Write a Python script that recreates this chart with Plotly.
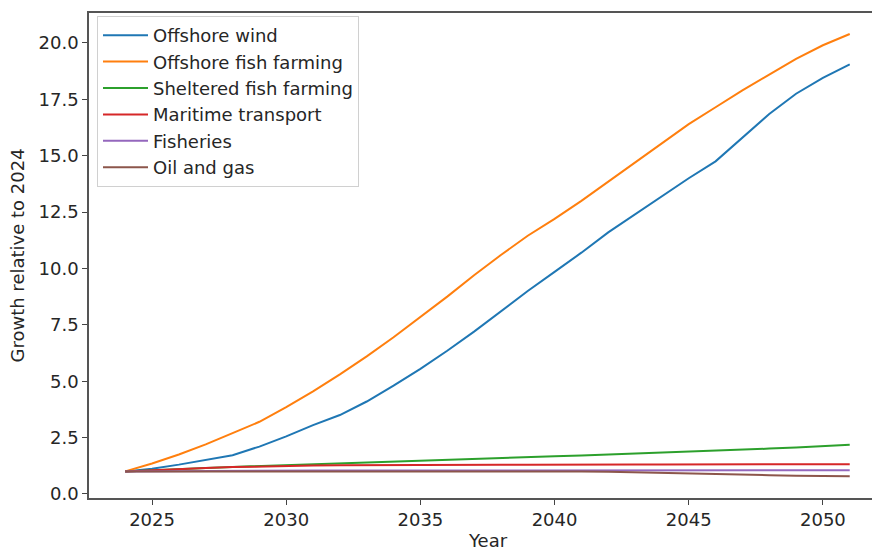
import plotly.graph_objects as go

years = list(range(2024, 2052))

offshore_wind = [1.0, 1.12, 1.3, 1.5, 1.72, 2.1, 2.55, 3.05, 3.5, 4.1, 4.8, 5.55,
                 6.35, 7.2, 8.1, 9.0, 9.85, 10.7, 11.6, 12.4, 13.2, 14.0, 14.75,
                 15.8, 16.85, 17.75, 18.45, 19.05]
offshore_fish = [1.0, 1.35, 1.75, 2.2, 2.7, 3.2, 3.85, 4.55, 5.3, 6.1, 6.95, 7.85,
                 8.75, 9.7, 10.6, 11.45, 12.2, 13.0, 13.85, 14.7, 15.55, 16.4, 17.15,
                 17.9, 18.6, 19.3, 19.9, 20.4]
sheltered_fish = [1.0, 1.06, 1.1, 1.15, 1.2, 1.24, 1.3, 1.33, 1.37, 1.41, 1.45, 1.49,
                  1.52, 1.56, 1.6, 1.63, 1.67, 1.7, 1.74, 1.78, 1.82, 1.86, 1.91,
                  1.96, 2.01, 2.06, 2.12, 2.18]
maritime = [1.0, 1.06, 1.11, 1.15, 1.19, 1.22, 1.24, 1.26, 1.27, 1.28, 1.29, 1.3,
            1.3, 1.3, 1.3, 1.3, 1.31, 1.31, 1.31, 1.31, 1.31, 1.31, 1.32, 1.32,
            1.32, 1.32, 1.32, 1.32]
fisheries = [1.0, 1.01, 1.02, 1.03, 1.03, 1.04, 1.04, 1.04, 1.04, 1.04, 1.04, 1.04,
             1.04, 1.05, 1.05, 1.05, 1.05, 1.05, 1.05, 1.05, 1.05, 1.05, 1.05,
             1.05, 1.05, 1.05, 1.05, 1.05]
oil_gas = [1.0, 1.0, 1.01, 1.01, 1.01, 1.02, 1.02, 1.02, 1.02, 1.02, 1.02, 1.02,
           1.02, 1.02, 1.02, 1.01, 1.01, 1.0, 0.98, 0.95, 0.92, 0.89, 0.87,
           0.85, 0.83, 0.81, 0.79, 0.78]

series_names = ["Offshore wind", "Offshore fish farming", "Sheltered fish farming",
                "Maritime transport", "Fisheries", "Oil and gas"]
series_values = [offshore_wind, offshore_fish, sheltered_fish, maritime, fisheries, oil_gas]
colors = ["#1f77b4", "#ff7f0e", "#2ca02c", "#d62728", "#9467bd", "#8c564b"]

x_ticks = [2025, 2030, 2035, 2040, 2045, 2050]
y_ticks = [0.0, 2.5, 5.0, 7.5, 10.0, 12.5, 15.0, 17.5, 20.0]

fig = go.Figure()
for i, (name, vals, col) in enumerate(zip(series_names, series_values, colors)):
    fig.add_trace(go.Scatter(x=years, y=vals, mode="lines", name=name,
                             legendgroup=str(i),
                             line=dict(color=col, width=2)))

font = dict(family="DejaVu Sans", size=18, color="#262626")
W, H = 872, 550
L, R, T, B = 89, 0, 13, 52

fig.update_layout(
    width=W, height=H,
    margin=dict(l=L, r=R, t=T, b=B),
    paper_bgcolor="white", plot_bgcolor="white",
    font=font,
    showlegend=True,
    legend=dict(x=(97 - L) / (W - L - R), y=(H - B - 16) / (H - T - B),
                xanchor="left", yanchor="top",
                bgcolor="rgba(255,255,255,0.85)", bordercolor="#d0d0d0", borderwidth=1,
                font=font, itemwidth=45,
                traceorder="grouped", tracegroupgap=0),
    xaxis=dict(range=[2022.65, 2051.83], tickvals=x_ticks, ticks="outside", ticklen=5,
               tickcolor="#444", showline=True, linecolor="#555", linewidth=1.5,
               mirror=True, showgrid=False, zeroline=False,
               tickfont=font),
    yaxis=dict(range=[-0.18, 21.33], tickvals=y_ticks, tickformat=".1f", ticks="outside",
               ticklen=5, tickcolor="#444", showline=True, linecolor="#555",
               linewidth=1.5, showgrid=False, zeroline=False, tickfont=font),
    annotations=[
        dict(text="Year", xref="paper", yref="paper",
             x=(488 - L) / (W - L - R), y=-(540 - (H - B)) / (H - T - B),
             xanchor="center", yanchor="middle", showarrow=False, font=font),
        dict(text="Growth relative to 2024", xref="paper", yref="paper",
             x=-(L - 17) / (W - L - R), y=0.5, textangle=-90,
             xanchor="center", yanchor="middle", showarrow=False, font=font),
    ],
)

fig.write_html("out.html")
